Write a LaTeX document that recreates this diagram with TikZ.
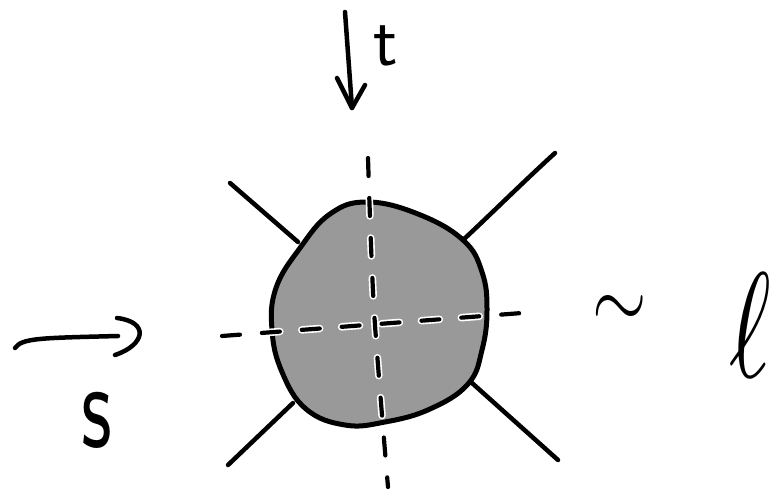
\documentclass[tikz,border=0pt]{standalone}
\definecolor{blobgray}{gray}{0.6}
\begin{document}
\begin{tikzpicture}[x=1pt,y=-1pt,line cap=round,line join=round,
  stroke/.style={line width=4.5pt},
  dsh/.style={line width=4.2pt,dash pattern=on 18pt off 22pt,
    preaction={draw=white,line width=7.5pt,dash pattern=on 18pt off 22pt}},
  lbl/.style={inner sep=0pt}]
\useasboundingbox (0,0) rectangle (783,490);
% blob
\draw[line width=5pt,fill=blobgray] plot[smooth cycle,tension=0.7] coordinates {
 (367,202) (418,214) (463,240) (482,272) (487,310) (482,350) (468,384)
 (430,409) (385,422) (345,425) (306,409) (282,372) (272,330) (276,288) (300,248) (330,214)};
% dashed cross
\draw[dsh] (222,336) -- (535,312);
\draw[dsh] plot[smooth] coordinates {(368,158) (374,310) (388,487)};
% legs
\draw[stroke] (230,183) -- (298,242);
\draw[stroke] (555,153) .. controls (520,185) and (490,215) .. (463,240);
\draw[stroke] (472,383) -- (558,460);
\draw[stroke] (293,403) -- (228,465);
% t arrow
\draw[stroke] (345,12) -- (352,108);
\draw[stroke] (337,78) -- (352,108) -- (365,85);
% s arrow
\draw[stroke] (15,348) .. controls (22,338) and (40,338) .. (118,336);
\draw[stroke] (117,318) .. controls (150,322) and (145,345) .. (115,355);
% labels
\node[lbl,font=\fontsize{72}{72}\selectfont\sffamily] (tl) at (386,46) {t};
\node[lbl,font=\fontsize{100}{100}\selectfont\sffamily,xscale=0.85,yscale=1.25] (sl) at (97,420) {s};
\node[lbl,xscale=7,yscale=9] (sim) at (620,312) {$\sim$};
\node[lbl,xscale=10,yscale=15] (ell) at (750,325) {$\ell$};
\end{tikzpicture}
\end{document}
